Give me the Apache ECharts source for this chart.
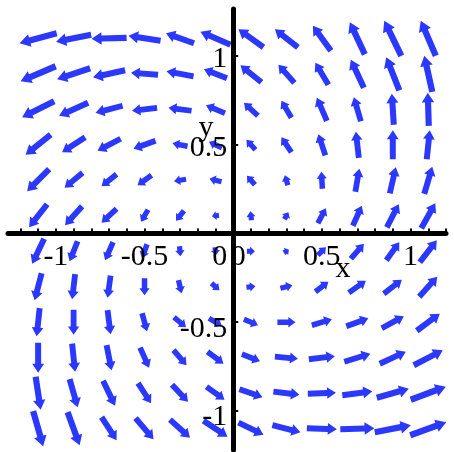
<!DOCTYPE html>
<html>
<head>
<meta charset="utf-8">
<script src="https://cdn.jsdelivr.net/npm/echarts@6/dist/echarts.min.js"></script>
<style>
  html, body { margin: 0; padding: 0; background: #fff; }
  #chart { width: 454px; height: 452px; }
</style>
</head>
<body>
<div id="chart"></div>
<script>
// Grid of sample points (same for x and y)
const xs = [-1.1, -0.9, -0.7, -0.5, -0.3, -0.1, 0.1, 0.3, 0.5, 0.7, 0.9, 1.1];
const ys = [1.1, 0.9, 0.7, 0.5, 0.3, 0.1, -0.1, -0.3, -0.5, -0.7, -0.9, -1.1];

// Horizontal vector components, one row per y (top to bottom)
const U = [
  [-37, -35, -35, -32, -28, -30, -25, -23, -18, -15, -17, -15],
  [-35, -33, -32, -27, -27, -23, -21, -16, -13, -13, -13, -8],
  [-32, -29, -27, -25, -23, -19, -14, -10, -10, -7, -2, -1],
  [-25, -23, -23, -22, -15, -13, -9, -10, -7, -3, 0, 3],
  [-22, -18, -15, -14, -12, -12, -8, -3, -1, 4, 6, 8],
  [-18, -17, -15, -7, -8, -7, -1, 4, 8, 9, 12, 14],
  [-12, -8, -8, -5, 1, 1, 8, 5, 8, 13, 13, 17],
  [-7, -3, -3, 0, 3, 8, 9, 12, 13, 17, 18, 18],
  [-3, 0, 3, 5, 12, 13, 14, 18, 20, 22, 22, 23],
  [0, 3, 5, 9, 13, 16, 18, 23, 26, 26, 26, 29],
  [5, 8, 12, 13, 16, 18, 23, 26, 28, 30, 32, 35],
  [10, 12, 15, 18, 20, 24, 25, 28, 30, 34, 36, 36]
];

// Vertical vector components, one row per y (top to bottom)
const V = [
  [-10, -7, -1, 5, 10, 13, 18, 18, 25, 32, 35, 35],
  [-15, -11, -7, 2, 5, 9, 17, 18, 22, 28, 33, 36],
  [-16, -13, -7, -3, 3, 8, 13, 17, 23, 24, 31, 33],
  [-20, -15, -12, -8, 3, 6, 10, 15, 21, 26, 29, 29],
  [-22, -15, -12, -10, -2, 3, 9, 10, 17, 23, 26, 27],
  [-23, -19, -14, -12, -10, -1, 9, 7, 15, 20, 23, 25],
  [-25, -20, -18, -14, -10, -8, 0, 3, 8, 15, 18, 22],
  [-27, -25, -22, -17, -13, -7, 1, 3, 10, 12, 14, 20],
  [-28, -25, -24, -18, -10, -8, -6, 0, 6, 8, 12, 17],
  [-30, -28, -25, -20, -15, -12, -7, -2, 3, 8, 12, 15],
  [-33, -28, -25, -20, -17, -13, -8, -3, 1, 4, 9, 13],
  [-35, -33, -23, -21, -18, -16, -12, -7, -1, 1, 7, 13]
];

// Tick positions and labels
const xTicks = [-1.2, -1.1, -1.0, -0.9, -0.8, -0.7, -0.6, -0.5, -0.4, -0.3, -0.2, -0.1,
                0.1, 0.2, 0.3, 0.4, 0.5, 0.6, 0.7, 0.8, 0.9, 1.0, 1.1, 1.2];
const xLabels = [-1, -0.5, 0, 0.5, 1];
const yTicks = [-1, -0.5, 0.5, 1];
const yLabels = [-1, -0.5, 0, 0.5, 1];

const ARROW_COLOR = '#2b38ff';
const VEC_SCALE = 1 / 177;   // vector units -> data units
const FONT = 'Liberation Serif';
const W = 454, H = 452;
const GRID = { left: 8, right: 8, top: 9, bottom: 2 };

const data = [];
ys.forEach((y, i) => {
  xs.forEach((x, j) => {
    data.push([x, y, U[i][j], V[i][j]]);
  });
});

// Thick arrow centred on its sample point: square-ended shaft plus triangular head
function renderArrow(params, api) {
  const x = api.value(0), y = api.value(1);
  const u = api.value(2) * VEC_SCALE, v = api.value(3) * VEC_SCALE;
  const a = api.coord([x - u / 2, y - v / 2]);
  const b = api.coord([x + u / 2, y + v / 2]);
  let dx = b[0] - a[0], dy = b[1] - a[1];
  const L = Math.max(Math.hypot(dx, dy), 0.001);
  dx /= L; dy /= L;
  const nx = -dy, ny = dx;
  const sw = 4.8 + 0.04 * L;
  const hw = 8 + 0.13 * L;
  const hl = Math.min(4 + 0.17 * L, L * 0.6);
  const base = [b[0] - dx * hl, b[1] - dy * hl];
  const pts = [
    [a[0] + nx * sw / 2, a[1] + ny * sw / 2],
    [base[0] + nx * sw / 2, base[1] + ny * sw / 2],
    [base[0] + nx * hw / 2, base[1] + ny * hw / 2],
    [b[0], b[1]],
    [base[0] - nx * hw / 2, base[1] - ny * hw / 2],
    [base[0] - nx * sw / 2, base[1] - ny * sw / 2],
    [a[0] - nx * sw / 2, a[1] - ny * sw / 2]
  ];
  return { type: 'polygon', shape: { points: pts }, style: { fill: ARROW_COLOR } };
}

const labelStyle = { fontFamily: FONT, fontSize: 30, color: '#000' };

const chart = echarts.init(document.getElementById('chart'), null, { renderer: 'canvas' });
chart.setOption({
  animation: false,
  backgroundColor: '#fff',
  grid: Object.assign({ containLabel: false, outerBoundsMode: 'none' }, GRID),
  xAxis: {
    type: 'value', min: -1.27, max: 1.2, z: 5, position: 'bottom', offset: 0,
    splitLine: { show: false },
    axisLine: { onZero: false, lineStyle: { color: '#000', width: 5 } },
    axisTick: { inside: true, length: 5, customValues: xTicks, lineStyle: { color: '#000', width: 2 } },
    axisLabel: Object.assign({
      customValues: xLabels, margin: 9, hideOverlap: false,
      formatter: v => v === 0 ? '{z|0}' : String(v),
      rich: { z: Object.assign({ padding: [0, 0, 0, 10] }, labelStyle) }
    }, labelStyle)
  },
  yAxis: {
    type: 'value', min: -1.22, max: 1.265, z: 5, position: 'left', offset: 0,
    splitLine: { show: false },
    axisLine: { onZero: false, lineStyle: { color: '#000', width: 5 } },
    axisTick: { inside: true, length: 5, customValues: yTicks, lineStyle: { color: '#000', width: 2 } },
    axisLabel: Object.assign({
      customValues: yLabels, margin: 6, hideOverlap: false,
      formatter: v => v === 0 ? '{z|0}' : (v < 0 ? '{n|' + v + '}' : '{p|' + v + '}'),
      rich: {
        z: Object.assign({ padding: [48, 0, 0, 0] }, labelStyle),
        p: Object.assign({ padding: [6, 0, 0, 0] }, labelStyle),
        n: Object.assign({ padding: [13, 0, 0, 0] }, labelStyle)
      }
    }, labelStyle)
  },
  graphic: [
    { type: 'text', x: 343, y: 269, z: 10, style: { text: 'x', font: '30px "Liberation Serif"', fill: '#000', textAlign: 'center', textVerticalAlign: 'middle' } },
    { type: 'text', x: 206, y: 128, z: 10, style: { text: 'y', font: '30px "Liberation Serif"', fill: '#000', textAlign: 'center', textVerticalAlign: 'middle' } }
  ],
  series: [{
    type: 'custom', z: 1,
    renderItem: renderArrow,
    data: data,
    encode: { x: 0, y: 1 },
    clip: false
  }]
});

// Move both axes so they cross at the origin, labels included
const origin = chart.convertToPixel({ gridIndex: 0 }, [0, 0]);
chart.setOption({
  xAxis: { offset: -((H - GRID.bottom) - origin[1]) },
  yAxis: { offset: -(origin[0] - GRID.left) }
});
</script>
</body>
</html>
